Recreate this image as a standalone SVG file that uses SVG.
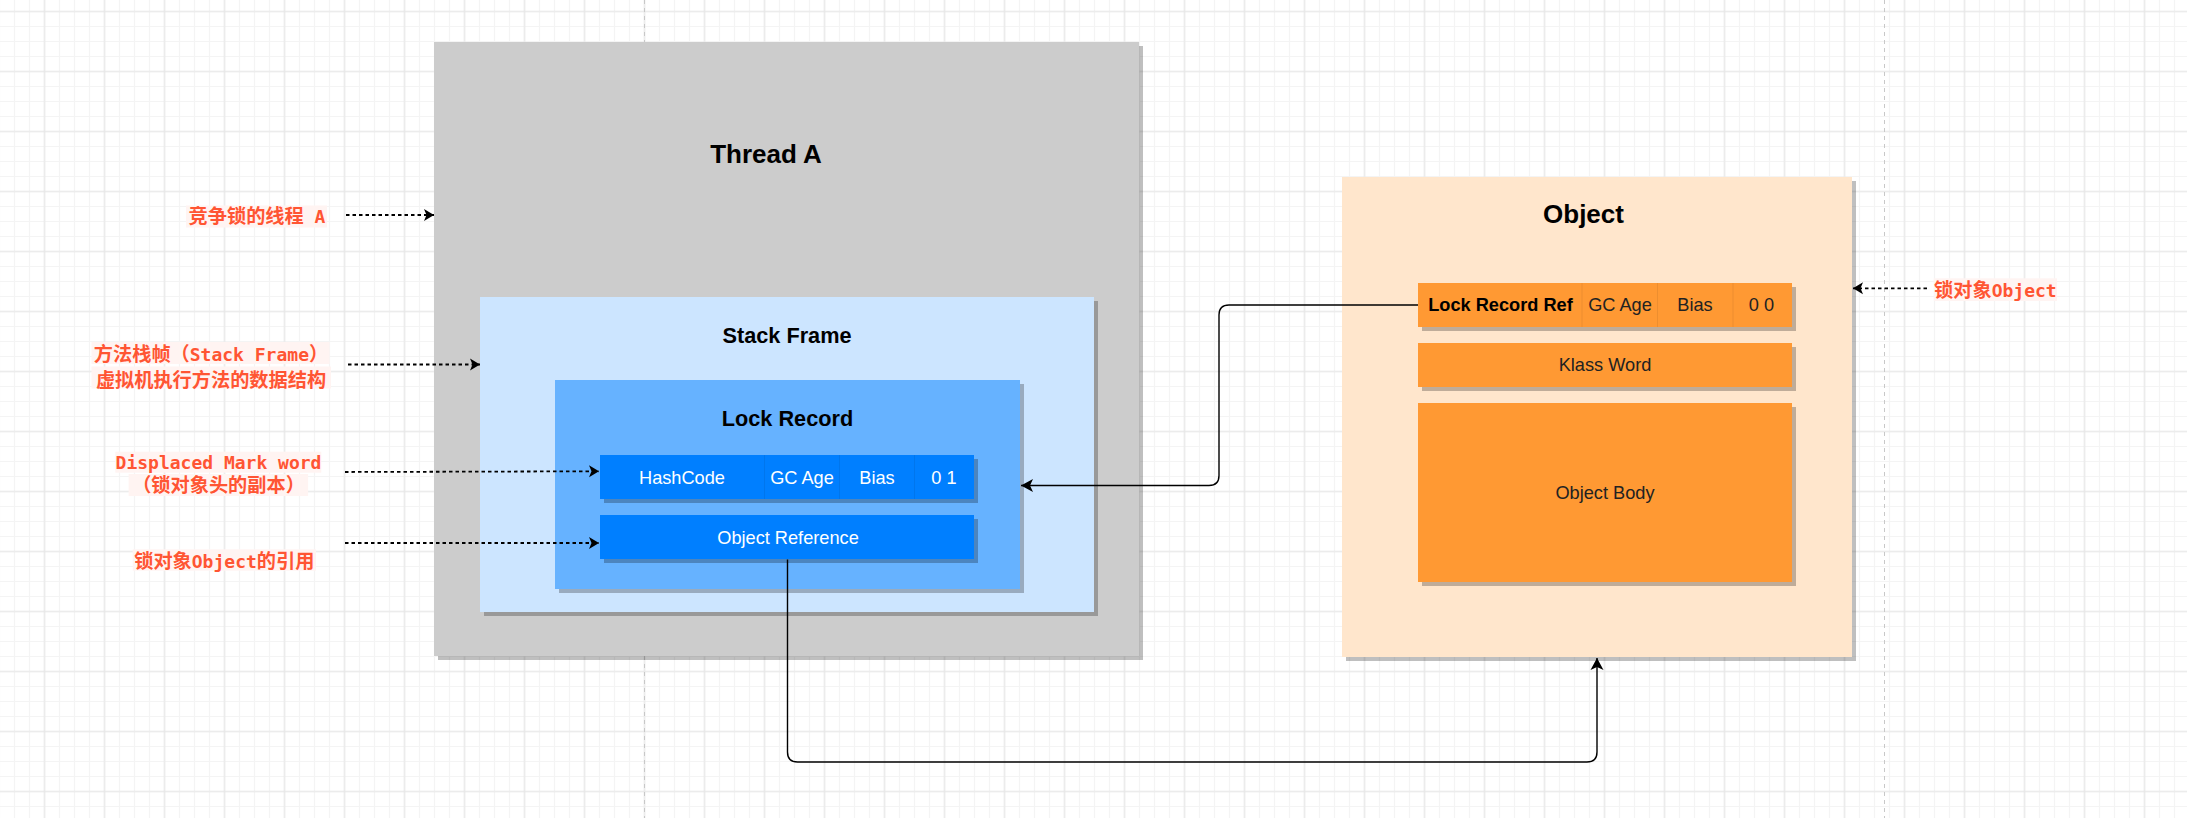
<svg xmlns="http://www.w3.org/2000/svg" width="2187" height="818" viewBox="0 0 2187 818">
<defs>
<style>
.t{font-family:"Liberation Sans",Arial,sans-serif;text-anchor:middle}
.b{font-weight:bold}
.w{fill:#ffffff}
.k{fill:#000000}
.lbl{font-family:"DejaVu Sans Mono","Noto Sans CJK SC",monospace;font-size:18px;font-weight:bold;fill:#FF5533;text-anchor:middle}
.cj{font-family:"Noto Sans CJK SC",sans-serif;font-size:19.2px}
.lbg{fill:#FFF4F2}
.sh{fill:#000000;fill-opacity:.25}
.conn{fill:none;stroke:#000000;stroke-width:1.4}
.dash{fill:none;stroke:#000000;stroke-width:1.8;stroke-dasharray:3.5 3}
.pb{fill:none;stroke:#C8C8C8;stroke-width:1;stroke-dasharray:4 4}
.div{stroke:#000000;stroke-opacity:.07;stroke-width:1}
</style>
<pattern id="minor" width="15" height="15" x="7" y="4" patternUnits="userSpaceOnUse">
<path d="M7.5,0 V15 M0,7.5 H15" stroke="#F4F4F4" stroke-width="1.2" fill="none"/>
</pattern>
<pattern id="major" width="60" height="60" x="14.5" y="-18.5" patternUnits="userSpaceOnUse">
<path d="M30,0 V60 M0,30 H60" stroke="#E4E4E4" stroke-width="1" fill="none"/>
</pattern>
<marker id="arr" markerWidth="14" markerHeight="14" viewBox="-13 -7 14 14" refX="0" refY="0" orient="auto" markerUnits="userSpaceOnUse">
<path d="M0,0 L-12,-6.5 L-9,0 L-12,6.5 Z" fill="#000000"/>
</marker>
<marker id="arrs" markerWidth="12" markerHeight="14" viewBox="-11 -7 12 14" refX="0" refY="0" orient="auto" markerUnits="userSpaceOnUse">
<path d="M0,0 L-10,-6 L-7.5,0 L-10,6 Z" fill="#000000"/>
</marker>
</defs>

<g id="background">
<rect x="0" y="0" width="2187" height="818" fill="#ffffff"/>
<rect x="0" y="0" width="2187" height="818" fill="url(#minor)"/>
<rect x="0" y="0" width="2187" height="818" fill="url(#major)"/>
<path class="pb" d="M644.5,0 V818 M1884.5,0 V818"/>
</g>

<g id="thread-a">
<rect class="sh" x="438" y="46" width="705" height="614"/>
<rect x="434" y="42" width="705" height="614" fill="#CCCCCC"/>
<text class="t b k" x="766" y="163" font-size="26">Thread A</text>
</g>

<g id="stack-frame">
<rect class="sh" x="484" y="301" width="614" height="315"/>
<rect x="480" y="297" width="614" height="315" fill="#CCE5FF"/>
<text class="t b k" x="787" y="342.5" font-size="21.7">Stack Frame</text>
</g>

<g id="lock-record">
<rect class="sh" x="559" y="384" width="465" height="209"/>
<rect x="555" y="380" width="465" height="209" fill="#66B2FF"/>
<text class="t b k" x="787.5" y="426" font-size="21.7">Lock Record</text>
</g>

<g id="displaced-mark-word">
<rect class="sh" x="604" y="459" width="374" height="44"/>
<rect x="600" y="455" width="374" height="44" fill="#007FFF"/>
<path class="div" d="M764.5,455 V499 M839.5,455 V499 M914.5,455 V499"/>
<text class="t w" x="682" y="483.5" font-size="18.2">HashCode</text>
<text class="t w" x="802" y="483.5" font-size="18.2">GC Age</text>
<text class="t w" x="877" y="483.5" font-size="18.2">Bias</text>
<text class="t w" x="944" y="483.5" font-size="18.2">0 1</text>
</g>

<g id="object-reference">
<rect class="sh" x="604" y="519" width="374" height="44"/>
<rect x="600" y="515" width="374" height="44" fill="#007FFF"/>
<text class="t w" x="788" y="543.5" font-size="18.2">Object Reference</text>
</g>

<g id="object">
<rect class="sh" x="1346" y="181" width="510" height="480"/>
<rect x="1342" y="177" width="510" height="480" fill="#FFE6CC"/>
<text class="t b k" x="1583.5" y="223.3" font-size="26">Object</text>
</g>

<g id="mark-word">
<rect class="sh" x="1422" y="287" width="374" height="44"/>
<rect x="1418" y="283" width="374" height="44" fill="#FF9933"/>
<path class="div" d="M1582,283 V327 M1657.5,283 V327 M1733,283 V327"/>
<text class="t b k" x="1500.5" y="311.3" font-size="18.2">Lock Record Ref</text>
<text class="t" x="1620" y="311.3" font-size="18.2" fill="#222222">GC Age</text>
<text class="t" x="1695" y="311.3" font-size="18.2" fill="#222222">Bias</text>
<text class="t" x="1761.5" y="311.3" font-size="18.2" fill="#222222">0 0</text>
</g>

<g id="klass-word">
<rect class="sh" x="1422" y="347" width="374" height="44"/>
<rect x="1418" y="343" width="374" height="44" fill="#FF9933"/>
<text class="t" x="1605" y="371.3" font-size="18.2" fill="#222222">Klass Word</text>
</g>

<g id="object-body">
<rect class="sh" x="1422" y="407" width="374" height="179"/>
<rect x="1418" y="403" width="374" height="179" fill="#FF9933"/>
<text class="t" x="1605" y="499" font-size="18.2" fill="#222222">Object Body</text>
</g>

<g id="label-thread">
<rect class="lbg" x="186" y="205.5" width="141" height="22"/>
<text class="lbl" x="257" y="223"><tspan class="cj">竞争锁的线程</tspan> A</text>
</g>

<g id="label-stack-frame">
<rect class="lbg" x="91.5" y="342" width="238" height="22"/>
<rect class="lbg" x="91.5" y="366.5" width="239.5" height="22"/>
<text class="lbl"><tspan x="211" y="360.5"><tspan class="cj">方法栈帧（</tspan>Stack Frame<tspan class="cj">）</tspan></tspan><tspan class="cj" x="211" y="386.5">虚拟机执行方法的数据结构</tspan></text>
</g>

<g id="label-displaced">
<rect class="lbg" x="115.3" y="451.7" width="206" height="21"/>
<rect class="lbg" x="128.6" y="474" width="179.5" height="22"/>
<text class="lbl"><tspan x="218.5" y="469">Displaced Mark word</tspan><tspan class="cj" x="218.5" y="492">（锁对象头的副本）</tspan></text>
</g>

<g id="label-objref">
<rect class="lbg" x="132.7" y="549.3" width="183.3" height="21.4"/>
<text class="lbl" x="224.3" y="567.5"><tspan class="cj">锁对象</tspan>Object<tspan class="cj">的引用</tspan></text>
</g>

<g id="label-object">
<rect class="lbg" x="1933.8" y="278.3" width="123.2" height="22.7"/>
<text class="lbl" x="1995.4" y="297"><tspan class="cj">锁对象</tspan>Object</text>
</g>

<g id="connectors">
<path class="conn" marker-end="url(#arr)" d="M1418,305 H1229 Q1219,305 1219,315 V475.5 Q1219,485.5 1209,485.5 H1021"/>
<path class="conn" marker-end="url(#arr)" d="M787.5,559.5 V752 Q787.5,762 797.5,762 H1587 Q1597,762 1597,752 V658"/>
<path class="dash" marker-end="url(#arrs)" d="M346,215 H434"/>
<path class="dash" marker-end="url(#arrs)" d="M348,364.5 H480"/>
<path class="dash" marker-end="url(#arrs)" d="M345,472 L599,471.3"/>
<path class="dash" marker-end="url(#arrs)" d="M345,543 H599"/>
<path class="dash" marker-end="url(#arrs)" d="M1927,288.3 H1853"/>
</g>
</svg>
